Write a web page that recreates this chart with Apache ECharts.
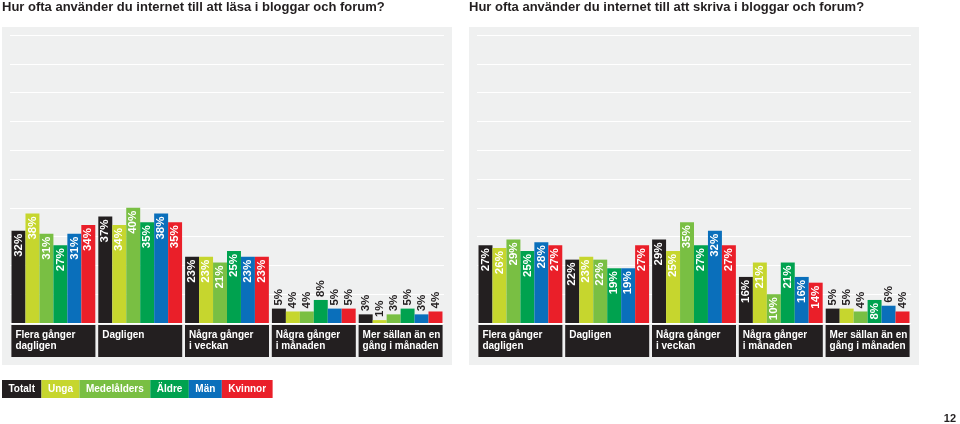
<!DOCTYPE html>
<html><head><meta charset="utf-8">
<script src="https://cdn.jsdelivr.net/npm/echarts@6/dist/echarts.min.js"></script>
<style>html,body{margin:0;padding:0;background:#fff}#c{width:960px;height:424px}</style>
</head><body><div id="c"></div>
<script>
// ---- data ----
const categories = ['Flera gånger\ndagligen', 'Dagligen', 'Några gånger\ni veckan', 'Några gånger\ni månaden', 'Mer sällan än en\ngång i månaden'];
const seriesNames = ['Totalt', 'Unga', 'Medelålders', 'Äldre', 'Män', 'Kvinnor'];
const titleRead = 'Hur ofta använder du internet till att läsa i bloggar och forum?';
const titleWrite = 'Hur ofta använder du internet till att skriva i bloggar och forum?';
const pageNumber = '12';

const readTotalt   = [32, 37, 23, 5, 3];
const readUnga     = [38, 34, 23, 4, 1];
const readMedel    = [31, 40, 21, 4, 3];
const readAldre    = [27, 35, 25, 8, 5];
const readMan      = [31, 38, 23, 5, 3];
const readKvinnor  = [34, 35, 23, 5, 4];

const writeTotalt  = [27, 22, 29, 16, 5];
const writeUnga    = [26, 23, 25, 21, 5];
const writeMedel   = [29, 22, 35, 10, 4];
const writeAldre   = [25, 19, 27, 21, 8];
const writeMan     = [28, 19, 32, 16, 6];
const writeKvinnor = [27, 27, 27, 14, 4];

const yMin = 0, yMax = 100, yStep = 10;

// ---- styling ----
const FONT = '"Liberation Sans", Arial, Helvetica, sans-serif';
const colors = ['#231f20', '#c6d62e', '#79bf43', '#00a24f', '#0a6fbb', '#ea1f29'];
const panelColor = '#eff0f0';
const readSets = [readTotalt, readUnga, readMedel, readAldre, readMan, readKvinnor];
const writeSets = [writeTotalt, writeUnga, writeMedel, writeAldre, writeMan, writeKvinnor];
// labels are inside the bar when the bar is tall enough (with one exception in the writing chart)
function isInside(v, gridIdx, serIdx) {
  if (v >= 10) return true;
  return gridIdx === 1 && serIdx === 3 && v >= 8;
}
function labelFor(v, gridIdx, serIdx) {
  const base = { show: true, rotate: 90, verticalAlign: 'middle', fontFamily: FONT, fontWeight: 'bold', fontSize: 11.5, distance: 3, formatter: '{c}%' };
  if (isInside(v, gridIdx, serIdx)) return Object.assign(base, { position: 'insideTop', align: 'right', color: '#ffffff' });
  return Object.assign(base, { position: 'top', align: 'left', color: '#231f20' });
}
const series = [];
[readSets, writeSets].forEach((sets, g) => {
  sets.forEach((arr, s) => {
    series.push({
      type: 'bar', name: seriesNames[s], xAxisIndex: g, yAxisIndex: g,
      barGap: '0%', barCategoryGap: '3.5%',
      itemStyle: { color: colors[s] },
      emphasis: { disabled: true },
      data: arr.map(v => ({ value: v, label: labelFor(v, g, s) }))
    });
  });
});

const catLabel = {
  interval: 0, margin: 2, align: 'center', verticalAlign: 'top',
  backgroundColor: '#231f20', width: 76, height: 24, padding: [4, 4, 4, 4],
  formatter: v => v.split('\n').map(s => '{a|' + s + '}').join('\n'),
  rich: { a: { align: 'left', color: '#ffffff', fontFamily: FONT, fontWeight: 'bold', fontSize: 10, lineHeight: 11.5 } }
};
function xAxis(g) {
  return { type: 'category', gridIndex: g, data: categories, axisLine: { show: false }, axisTick: { show: false }, axisLabel: catLabel };
}
function yAxis(g) {
  return { type: 'value', gridIndex: g, min: yMin, max: yMax, interval: yStep, axisLabel: { show: false }, axisLine: { show: false }, axisTick: { show: false }, splitLine: { lineStyle: { color: '#ffffff', width: 1 } } };
}
const titleStyle = { fontFamily: FONT, fontWeight: 'bold', fontSize: 13, color: '#231f20' };
const option = {
  animation: false,
  backgroundColor: '#ffffff',
  title: [
    { text: titleRead, left: 2, top: 1, padding: 0, textStyle: titleStyle },
    { text: titleWrite, left: 469, top: 1, padding: 0, textStyle: titleStyle },
    { text: pageNumber, right: 4, bottom: 0, padding: 0, textStyle: Object.assign({}, titleStyle, { fontSize: 11 }) }
  ],
  graphic: [
    { type: 'rect', left: 2, top: 27, z: -100, silent: true, shape: { width: 450, height: 338 }, style: { fill: panelColor } },
    { type: 'rect', left: 469, top: 27, z: -100, silent: true, shape: { width: 450, height: 338 }, style: { fill: panelColor } }
  ],
  legend: {
    left: -3, top: 380, padding: 0, itemGap: -5, itemWidth: 0, itemHeight: 0, icon: 'none', selectedMode: false,
    data: seriesNames.map((n, i) => ({
      name: n,
      textStyle: { backgroundColor: colors[i], color: '#ffffff', fontFamily: FONT, fontWeight: 'bold', fontSize: 10, lineHeight: 12, padding: [3, 6.5, 3, 6.5] }
    }))
  },
  grid: [
    { left: 10, top: 35, width: 434, height: 288 },
    { left: 477, top: 35, width: 434, height: 288 }
  ],
  xAxis: [xAxis(0), xAxis(1)],
  yAxis: [yAxis(0), yAxis(1)],
  series: series
};
const chart = echarts.init(document.getElementById('c'), null, { renderer: 'canvas' });
chart.setOption(option);
</script>
</body></html>
